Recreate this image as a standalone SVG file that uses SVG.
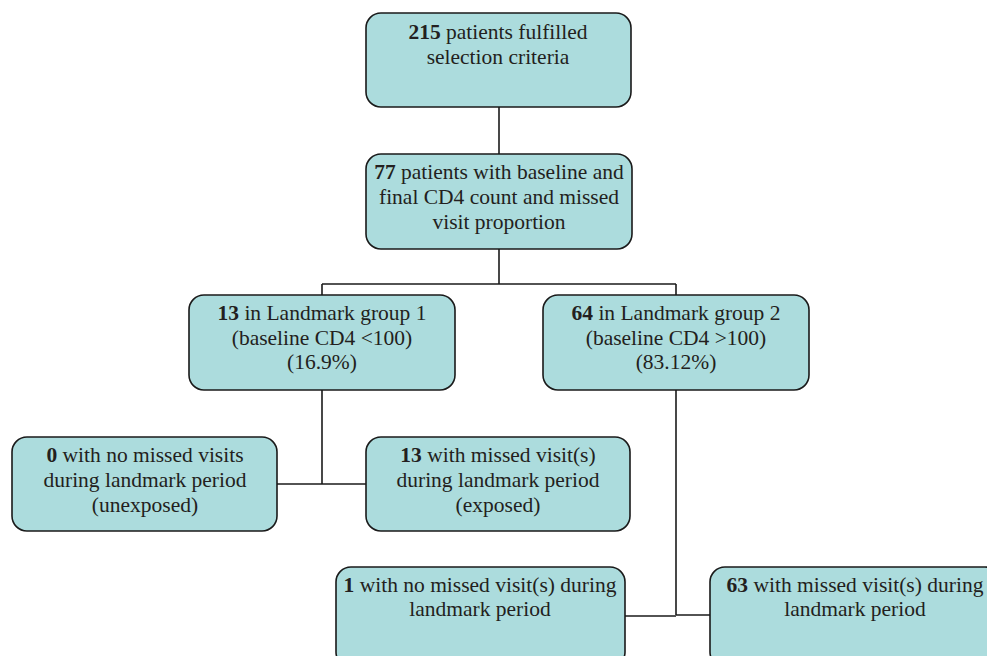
<svg xmlns="http://www.w3.org/2000/svg" width="987" height="656" viewBox="0 0 987 656">
<style>
.box{fill:#acdcdd;stroke:#1a1a1a;stroke-width:1.6}
.t{font-family:"Liberation Serif","Times New Roman",serif;font-size:21.5px;fill:#231f20;text-anchor:middle}
.b{font-weight:bold}
.c{fill:none;stroke:#1a1a1a;stroke-width:1.6}
</style>
<rect width="987" height="656" fill="#ffffff"/>
<g id="connectors">
<path class="c" d="M499 107V154"/>
<path class="c" d="M499 249V284"/>
<path class="c" d="M322 284H676"/>
<path class="c" d="M322 284V295"/>
<path class="c" d="M676 284V295"/>
<path class="c" d="M322 390V484"/>
<path class="c" d="M277 484H366"/>
<path class="c" d="M676 390V615"/>
<path class="c" d="M625 616H676"/>
<path class="c" d="M676 615H710"/>
</g>
<g id="n1">
<rect class="box" x="366" y="13" width="265" height="94" rx="15"/>
<text class="t" x="498" y="39"><tspan class="b">215</tspan> patients fulfilled</text>
<text class="t" x="498" y="64">selection criteria</text>
</g>
<g id="n2">
<rect class="box" x="366" y="154" width="266" height="95" rx="15"/>
<text class="t" x="499" y="179"><tspan class="b">77</tspan> patients with baseline and</text>
<text class="t" x="499" y="204">final CD4 count and missed</text>
<text class="t" x="499" y="229">visit proportion</text>
</g>
<g id="n3">
<rect class="box" x="189" y="295" width="266" height="95" rx="15"/>
<text class="t" x="322" y="320"><tspan class="b">13</tspan> in Landmark group 1</text>
<text class="t" x="322" y="345">(baseline CD4 &lt;100)</text>
<text class="t" x="322" y="369">(16.9%)</text>
</g>
<g id="n4">
<rect class="box" x="543" y="295" width="266" height="95" rx="15"/>
<text class="t" x="676" y="320"><tspan class="b">64</tspan> in Landmark group 2</text>
<text class="t" x="676" y="345">(baseline CD4 &gt;100)</text>
<text class="t" x="676" y="369">(83.12%)</text>
</g>
<g id="n5">
<rect class="box" x="12" y="437" width="265" height="94" rx="15"/>
<text class="t" x="145" y="462"><tspan class="b">0</tspan> with no missed visits</text>
<text class="t" x="145" y="487">during landmark period</text>
<text class="t" x="145" y="512">(unexposed)</text>
</g>
<g id="n6">
<rect class="box" x="366" y="437" width="264" height="94" rx="15"/>
<text class="t" x="498" y="462"><tspan class="b">13</tspan> with missed visit(s)</text>
<text class="t" x="498" y="487">during landmark period</text>
<text class="t" x="498" y="512">(exposed)</text>
</g>
<g id="n7">
<rect class="box" x="336" y="567" width="289" height="100" rx="15"/>
<text class="t" x="480" y="592"><tspan class="b">1</tspan> with no missed visit(s) during</text>
<text class="t" x="480" y="616">landmark period</text>
</g>
<g id="n8">
<rect class="box" x="710" y="567" width="290" height="100" rx="15"/>
<text class="t" x="855" y="592"><tspan class="b">63</tspan> with missed visit(s) during</text>
<text class="t" x="855" y="616">landmark period</text>
</g>
</svg>
